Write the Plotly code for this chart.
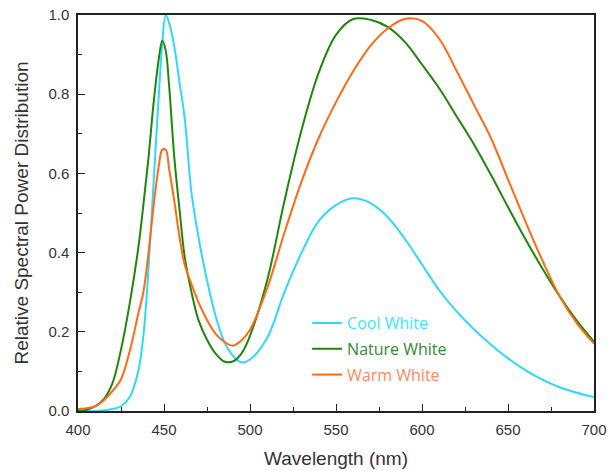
import plotly.graph_objects as go

# Wavelength grid (nm), denser around the blue LED peak
wavelength = [400, 405, 410, 415, 420, 425, 430, 435, 438, 441, 444, 447, 449, 451,
              453, 456, 459, 462, 466, 470, 475, 480, 485, 490, 495, 500, 510, 520,
              530, 540, 550, 560, 570, 580, 590, 600, 610, 620, 630, 640, 650, 660,
              670, 680, 690, 700]

cool_white = [0.0, 0.0, 0.0, 0.002, 0.005, 0.012, 0.035, 0.10, 0.19, 0.36, 0.58, 0.80,
              0.93, 1.0, 0.98, 0.92, 0.83, 0.74, 0.55, 0.44, 0.33, 0.24, 0.175, 0.14,
              0.123, 0.13, 0.185, 0.30, 0.40, 0.48, 0.52, 0.537, 0.525, 0.49, 0.435,
              0.37, 0.305, 0.252, 0.207, 0.168, 0.133, 0.103, 0.079, 0.06, 0.046, 0.035]

nature_white = [0.0, 0.003, 0.012, 0.03, 0.07, 0.155, 0.27, 0.41, 0.52, 0.64, 0.78, 0.89,
                0.935, 0.91, 0.82, 0.64, 0.51, 0.39, 0.30, 0.23, 0.18, 0.145, 0.125,
                0.125, 0.145, 0.19, 0.33, 0.53, 0.71, 0.855, 0.95, 0.99, 0.988, 0.97,
                0.932, 0.875, 0.815, 0.745, 0.675, 0.597, 0.515, 0.435, 0.36, 0.29,
                0.228, 0.175]

warm_white = [0.005, 0.007, 0.012, 0.027, 0.05, 0.08, 0.15, 0.245, 0.30, 0.40, 0.52, 0.62,
              0.66, 0.66, 0.61, 0.53, 0.44, 0.37, 0.32, 0.275, 0.23, 0.195, 0.175,
              0.165, 0.178, 0.205, 0.31, 0.45, 0.58, 0.69, 0.78, 0.858, 0.922, 0.966,
              0.99, 0.985, 0.94, 0.86, 0.775, 0.69, 0.585, 0.48, 0.38, 0.29, 0.222, 0.17]

series = [
    ("Cool White", cool_white, "#2ED8FF", "#3BE6FF"),
    ("Nature White", nature_white, "#1E870A", "#2E8B2E"),
    ("Warm White", warm_white, "#FF6A12", "#FF8A5C"),
]

fig = go.Figure()
for i, (name, values, color, text_color) in enumerate(series):
    fig.add_trace(go.Scatter(
        x=wavelength, y=values, mode="lines",
        line=dict(color=color, width=2, shape="spline", smoothing=1.0),
        name=f"<span style='color:{text_color}'>{name}</span>",
        legendgroup=f"g{i}",
    ))

title_font = dict(family="Liberation Sans, Arial", size=19, color="#333")
axis_common = dict(
    showline=True, linecolor="#222", linewidth=1.5, mirror=True,
    ticks="inside", ticklen=7, tickcolor="#222", tickwidth=1.2,
    showgrid=False, zeroline=False, automargin=False,
    tickfont=dict(family="Liberation Sans, Arial", size=15, color="#333"),
)

fig.update_xaxes(
    range=[400, 700], tickvals=[400, 450, 500, 550, 600, 650, 700],
    minor=dict(ticks="inside", ticklen=4, tickcolor="#222", dtick=25, tick0=400),
    ticklabelstandoff=4,
    title=dict(text="Wavelength (nm)", font=title_font),
    **axis_common,
)
fig.update_yaxes(
    range=[0, 1.0], tickvals=[0, 0.2, 0.4, 0.6, 0.8, 1.0], tickformat=".1f",
    minor=dict(ticks="inside", ticklen=4, tickcolor="#222", dtick=0.1, tick0=0),
    ticklabelstandoff=4,
    title=dict(text="Relative Spectral Power Distribution", font=title_font),
    **axis_common,
)

fig.update_layout(
    width=608, height=471,
    margin=dict(l=78, r=14, t=15, b=60),
    paper_bgcolor="white", plot_bgcolor="white",
    showlegend=True,
    legend=dict(
        x=0.444, y=0.265, xanchor="left", yanchor="top",
        bgcolor="rgba(0,0,0,0)", borderwidth=0,
        font=dict(family="Open Sans, Noto Sans", size=16),
        itemwidth=30, traceorder="grouped", tracegroupgap=2,
    ),
)

fig.write_html("out.html")
